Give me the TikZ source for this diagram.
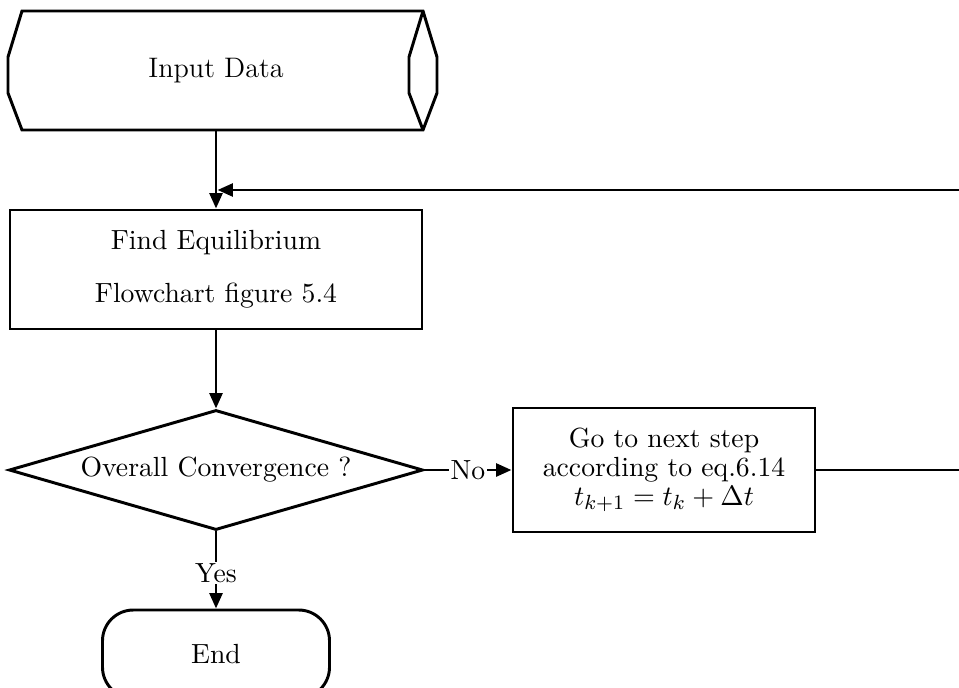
\documentclass[tikz,border=0pt]{standalone}
\usetikzlibrary{arrows.meta,shapes.geometric}
\begin{document}
\begin{tikzpicture}[x=0.39pt,y=-0.39pt,line width=1.15pt,
  box/.style={draw,rectangle,inner sep=0pt,align=center},
  arr/.style={-{Triangle[length=6pt,width=5pt]}},
  txt/.style={font=\fontsize{10.8}{13}\selectfont},
  lbl/.style={fill=white,inner sep=0.6pt,txt}]
\useasboundingbox (0,0) rectangle (959,687);
% Input Data (stored data shape)
\node[inner sep=0pt,minimum width={429*0.39pt},minimum height={119*0.39pt},font=\fontsize{11}{13}\selectfont] (in) at (216,70.5) {Input Data};
\draw (22,11) -- (423,11) -- (437,57) -- (437,93) -- (423,130) -- (22,130) -- (8,93) -- (8,57) -- cycle;
\draw (423,11) -- (409,57) -- (409,93) -- (423,130);
% Find Equilibrium
\node[box,txt,minimum width={412*0.39pt},minimum height={119*0.39pt}] (find) at (216,269.5) {Find Equilibrium\\[7.7pt]Flowchart figure 5.4};
% Decision
\node[draw,diamond,txt,inner sep=0pt,aspect=3.45,minimum width={414*0.39pt},minimum height={120*0.39pt}] (dec) at (216,470) {Overall Convergence ?};
% Next step
\node[box,font=\fontsize{10.8}{11.3}\selectfont,minimum width={302*0.39pt},minimum height={124*0.39pt}] (nxt) at (664,470) {Go to next step\\according to eq.6.14\\$t_{k+1}=t_k+\Delta t$};
% End
\node[draw,rectangle,txt,rounded corners=12pt,minimum width={227*0.39pt},minimum height={88*0.39pt}] (end) at (216,654) {End};
% connectors
\coordinate (c1) at (962,470);
\coordinate (c2) at (962,190);
\coordinate (j) at (217.5,190);
\draw[arr] (in.south) -- (find.north);
\draw[arr] (find.south) -- (dec.north);
\draw[arr] (dec.east) -- node[lbl]{No} (nxt.west);
\draw[arr] (nxt.east) -- (c1) -- (c2) -- (j);
\draw[arr] (dec.south) -- node[lbl,pos=0.54]{Yes} (end.north);
\end{tikzpicture}
\end{document}
